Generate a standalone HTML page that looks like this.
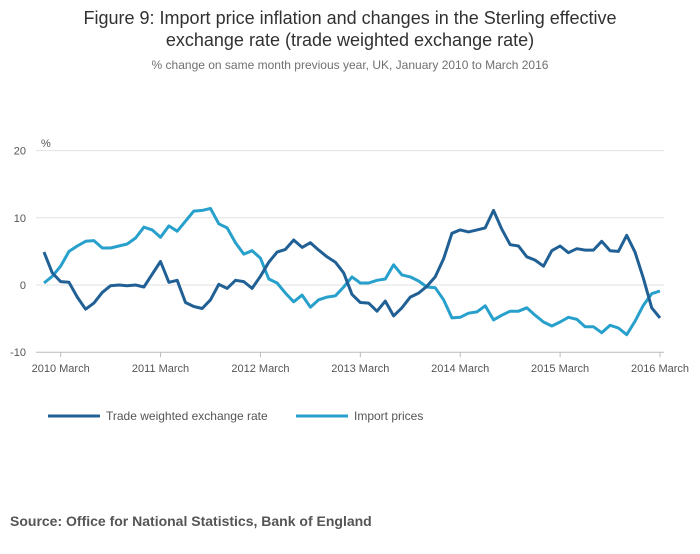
<!DOCTYPE html>
<html><head><meta charset="utf-8"><style>
body{margin:0;background:#fff;font-family:"Liberation Sans",sans-serif;}
#wrap{position:relative;width:700px;height:549px;}
</style></head><body>
<div id="wrap">
<svg id="chart" width="700" height="549">
<text x="350" y="24" text-anchor="middle" font-size="18" fill="#323132">Figure 9: Import price inflation and changes in the Sterling effective</text>
<text x="350" y="46" text-anchor="middle" font-size="18" fill="#323132">exchange rate (trade weighted exchange rate)</text>
<text x="350" y="69" text-anchor="middle" font-size="12" fill="#707070">% change on same month previous year, UK, January 2010 to March 2016</text>
<text x="41" y="147" font-size="11" fill="#555">%</text>
<g id="grid"></g><g id="series"></g>
<g>
<line x1="48" y1="416" x2="100" y2="416" stroke="#206095" stroke-width="3"/>
<text x="106" y="420" font-size="12" fill="#555">Trade weighted exchange rate</text>
<line x1="296" y1="416" x2="348" y2="416" stroke="#27a0cc" stroke-width="3"/>
<text x="354" y="420" font-size="12" fill="#555">Import prices</text>
</g>
<text x="10" y="526" font-size="14" font-weight="bold" fill="#555">Source: Office for National Statistics, Bank of England</text>
</svg>
</div>
<script>
const yTicks=[20,10,0,-10];
const xTickLabels=["2010 March","2011 March","2012 March","2013 March","2014 March","2015 March","2016 March"];
const xTickMonths=[2,14,26,38,50,62,74];
const tradeWeighted=[4.9,1.8,0.5,0.4,-1.8,-3.6,-2.7,-1.1,-0.1,0,-0.1,0,-0.3,1.6,3.5,0.4,0.7,-2.6,-3.2,-3.5,-2.2,0.1,-0.5,0.7,0.5,-0.5,1.3,3.4,4.9,5.3,6.7,5.6,6.3,5.2,4.2,3.4,1.8,-1.4,-2.6,-2.7,-3.9,-2.4,-4.6,-3.4,-1.8,-1.2,-0.2,1.2,3.9,7.7,8.2,7.9,8.2,8.5,11.1,8.3,6.0,5.8,4.2,3.7,2.8,5.1,5.8,4.8,5.4,5.2,5.2,6.5,5.1,5.0,7.4,4.9,1.0,-3.4,-4.9];
const importPrices=[0.3,1.3,2.8,5.0,5.8,6.5,6.6,5.5,5.5,5.8,6.1,7.0,8.6,8.2,7.1,8.8,8.0,9.5,11.0,11.1,11.4,9.1,8.5,6.3,4.6,5.1,4.0,0.9,0.3,-1.2,-2.5,-1.5,-3.3,-2.2,-1.8,-1.6,-0.3,1.2,0.3,0.3,0.7,0.9,3.0,1.5,1.2,0.6,-0.3,-0.4,-2.2,-4.9,-4.8,-4.2,-4.0,-3.1,-5.2,-4.5,-3.9,-3.9,-3.4,-4.5,-5.5,-6.1,-5.5,-4.8,-5.1,-6.2,-6.2,-7.1,-6.0,-6.4,-7.4,-5.4,-3.0,-1.3,-0.9];
const NS="http://www.w3.org/2000/svg";
const x=m=>44+m*(616/74);
const y=v=>285-v*6.72;
const grid=document.getElementById('grid'),ser=document.getElementById('series');
yTicks.forEach(t=>{
 const l=document.createElementNS(NS,'line');
 l.setAttribute('x1',36);l.setAttribute('x2',664);l.setAttribute('y1',y(t));l.setAttribute('y2',y(t));
 l.setAttribute('stroke',t===-10?'#bbb':'#e2e2e2');l.setAttribute('stroke-width',1);
 
 
 grid.appendChild(l);
 const tx=document.createElementNS(NS,'text');
 tx.setAttribute('x',26);tx.setAttribute('y',y(t)+4);tx.setAttribute('text-anchor','end');
 tx.setAttribute('font-size',11);tx.setAttribute('fill','#555');tx.textContent=t;
 
 
 grid.appendChild(tx);
});
xTickMonths.forEach((m,i)=>{
 const l=document.createElementNS(NS,'line');
 l.setAttribute('x1',x(m));l.setAttribute('x2',x(m));l.setAttribute('y1',y(-10));l.setAttribute('y2',y(-10)+5);
 l.setAttribute('stroke','#bbb');
 
 
 grid.appendChild(l);
 const tx=document.createElementNS(NS,'text');
 tx.setAttribute('x',x(m));tx.setAttribute('y',372);tx.setAttribute('text-anchor','middle');
 tx.setAttribute('font-size',11);tx.setAttribute('fill','#555');tx.textContent=xTickLabels[i];
 
 
 grid.appendChild(tx);
});
function line(data,color,name){
 const p=document.createElementNS(NS,'polyline');
 p.setAttribute('points',data.map((v,i)=>x(i).toFixed(1)+','+y(v).toFixed(1)).join(' '));
 p.setAttribute('fill','none');p.setAttribute('stroke',color);p.setAttribute('stroke-width',3);
 p.setAttribute('stroke-linejoin','round');
 
 
 ser.appendChild(p);
}
line(importPrices,'#27a0cc','import-prices-line');
line(tradeWeighted,'#206095','trade-weighted-line');
</script>
</body></html>
